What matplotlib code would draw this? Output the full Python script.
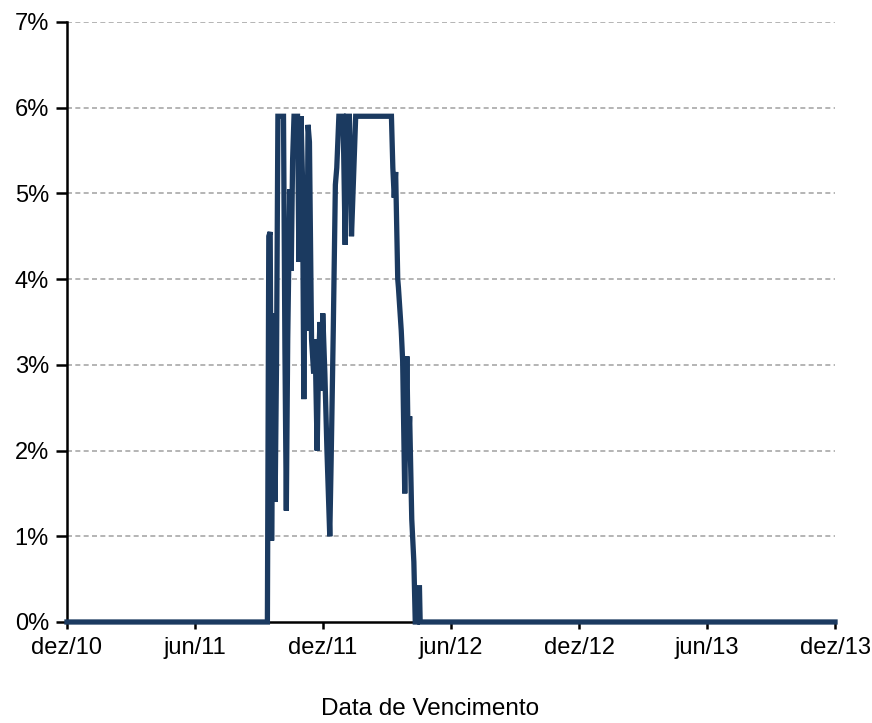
import pandas as pd
import matplotlib.pyplot as plt
from matplotlib.ticker import FuncFormatter

# valores (data de vencimento, % )
datas = [
    "2010-12-01", "2011-09-13", "2011-09-15", "2011-09-17", "2011-09-19",
    "2011-09-22", "2011-09-24", "2011-09-26", "2011-09-28", "2011-10-06",
    "2011-10-08", "2011-10-10", "2011-10-12", "2011-10-15", "2011-10-17",
    "2011-10-19", "2011-10-21", "2011-10-26", "2011-10-28", "2011-10-31",
    "2011-11-02", "2011-11-04", "2011-11-06", "2011-11-08", "2011-11-10",
    "2011-11-12", "2011-11-15", "2011-11-18", "2011-11-20", "2011-11-23",
    "2011-11-25", "2011-11-27", "2011-11-29", "2011-12-01", "2011-12-04",
    "2011-12-07", "2011-12-11", "2011-12-13", "2011-12-16", "2011-12-19",
    "2011-12-21", "2011-12-24", "2011-12-30", "2012-01-02", "2012-01-04",
    "2012-01-08", "2012-01-11", "2012-01-14", "2012-01-17", "2012-03-08",
    "2012-03-10", "2012-03-12", "2012-03-14", "2012-03-17", "2012-03-18",
    "2012-03-22", "2012-03-24", "2012-03-27", "2012-03-30", "2012-04-01",
    "2012-04-03", "2012-04-06", "2012-04-09", "2012-04-11", "2012-04-14",
    "2012-04-15", "2012-04-17", "2012-04-18", "2013-12-01",
]
valores = [
    0.0, 0.0, 4.5, 4.55, 0.95,
    3.6, 1.4, 3.0, 5.9, 5.9,
    3.2, 1.3, 3.3, 5.05, 4.1,
    5.4, 5.9, 5.9, 4.2, 5.9,
    5.2, 2.6, 4.9, 3.4, 5.8,
    5.6, 3.3, 2.9, 3.3, 2.0,
    3.0, 3.5, 2.7, 3.6, 2.9,
    2.0, 1.0, 1.9, 3.4, 5.1,
    5.3, 5.9, 5.9, 4.4, 5.9,
    5.9, 4.5, 5.2, 5.9, 5.9,
    5.3, 4.95, 5.25, 4.0, 3.9,
    3.4, 3.05, 1.5, 3.1, 2.0,
    2.4, 1.2, 0.7, 0.0, 0.0,
    0.4, 0.4, 0.0, 0.0,
]

meses_pt = {1: "jan", 2: "fev", 3: "mar", 4: "abr", 5: "mai", 6: "jun",
            7: "jul", 8: "ago", 9: "set", 10: "out", 11: "nov", 12: "dez"}
ticks_x = pd.to_datetime(["2010-12-01", "2011-06-01", "2011-12-01", "2012-06-01",
                          "2012-12-01", "2013-06-01", "2013-12-01"])

plt.rcParams['font.family'] = ['Liberation Sans', 'DejaVu Sans']

fig = plt.figure(figsize=(8.72, 7.23), dpi=100)
ax = fig.add_axes([0.0768, 0.1397, 0.8808, 0.8299])

x = pd.to_datetime(datas)
ax.plot(x, valores, color='#1b3a60', lw=3.8, solid_joinstyle='miter', zorder=3, clip_on=False)

ax.set_xlim(ticks_x[0], ticks_x[-1])
ax.set_ylim(0, 7)
ax.set_xticks(ticks_x)
ax.set_xticklabels([f"{meses_pt[d.month]}/{d.year % 100:02d}" for d in ticks_x])
ax.set_yticks(range(0, 8))
ax.yaxis.set_major_formatter(FuncFormatter(lambda v, p: f"{v:.0f}%"))

for yv in range(1, 8):
    ax.axhline(yv, color='#a8a8a8', lw=1.2, ls=(0, (3, 2)), zorder=1)

for s in ['top', 'right']:
    ax.spines[s].set_visible(False)
for s in ['left', 'bottom']:
    ax.spines[s].set_linewidth(1.8)
    ax.spines[s].set_color('black')

ax.tick_params(axis='y', direction='out', length=8, width=1.8, labelsize=17, pad=5)
ax.tick_params(axis='x', direction='out', length=5, width=1.8, labelsize=17, pad=6)

fig.text(0.493, 0.004, "Data de Vencimento", fontsize=17.5, ha='center', va='bottom')

fig.savefig("out.png", dpi=100)
